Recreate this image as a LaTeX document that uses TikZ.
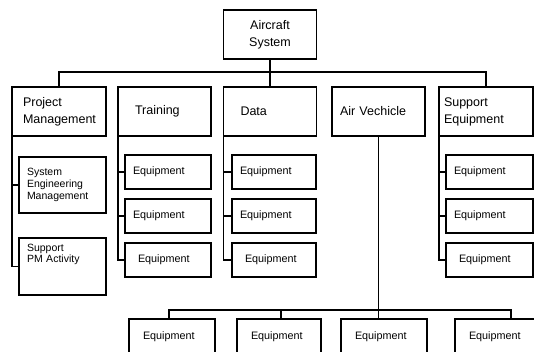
\documentclass[tikz,border=0pt]{standalone}
\usepackage{fontspec}
\setmainfont{Liberation Sans}

\begin{document}
\begin{tikzpicture}[x=1pt,y=-1pt,line width=1.1pt,
  box/.style n args={3}{draw,rectangle,inner ysep=0pt,outer sep=0pt,
    align=left,minimum width=#1,minimum height=#2,inner xsep=#3,
    text width=#1-2*#3},
  lvltxt/.style={font=\fontsize{12.5}{17}\selectfont},
  eqtxt/.style={font=\fontsize{10.8}{12}\selectfont},
  subtxt/.style={font=\fontsize{10.5}{11.7}\selectfont}]
  \useasboundingbox (0,0) rectangle (534,351);
  \clip (0,0) rectangle (534,351);

  % top and first level
  \node[box={93}{49}{5},lvltxt,align=center] (air) at (270,34.5)
    {Aircraft\\System};
  \foreach \name/\x/\w/\pad/\txt in {
    pm/59/94/11/{Project\\Management},
    trn/164.5/93/17/Training,
    dat/270/93/17/Data,
    av/378.5/93/8/Air Vechicle,
    se/486/94/5/{Support\\Equipment}}
    \node[box={\w}{49}{\pad},lvltxt] (\name) at (\x,111.5) {\txt};

  % project management items
  \node[box={87}{56}{8},subtxt] (sem) at (62.5,185)
    {System\\Engineering\\Management};
  \node[box={87}{57}{8},subtxt,text depth=38pt] (spa) at (62.5,266.5)
    {Support\\PM Activity};

  % equipment columns
  \foreach \col/\x/\w in {t/168/86, d/274/84, s/489.5/87}
    \foreach \i/\y/\pad in {1/172/8, 2/216/8, 3/260/13}
      \node[box={\w}{34}{\pad},eqtxt] (\col\i) at (\x,\y) {Equipment};

  % air vehicle equipment
  \foreach \i/\x/\w in {1/172/86, 2/279/84, 3/384/86, 4/497/84}
    \node[box={\w}{36}{14},eqtxt] (b\i) at (\x,337) {Equipment};

  % connectors
  \draw (air) -- (dat);
  \path (air.south) ++(0,13) coordinate (bus);
  \draw (pm.north) |- (bus) -| (se.north);

  \draw (pm.south west) |- (spa.west);
  \draw (sem.west) -- (sem.west -| pm.south west);
  \foreach \col/\top in {t/trn, d/dat, s/se}{
    \draw (\top.south west) |- (\col3.west);
    \foreach \i in {1,2}
      \draw (\col\i.west) -- (\col\i.west -| \top.south west);
  }

  \path (av.south) ++(0,174) coordinate (bbus);
  \draw (av) -- (bbus);
  \draw ([xshift=40]b1.north west) |- (bbus) -| ([xshift=56]b4.north west);
  \draw ([xshift=44]b2.north west) -- ++(0,-9);
  \draw (b3.north -| bbus) -- (bbus);
\end{tikzpicture}
\end{document}
